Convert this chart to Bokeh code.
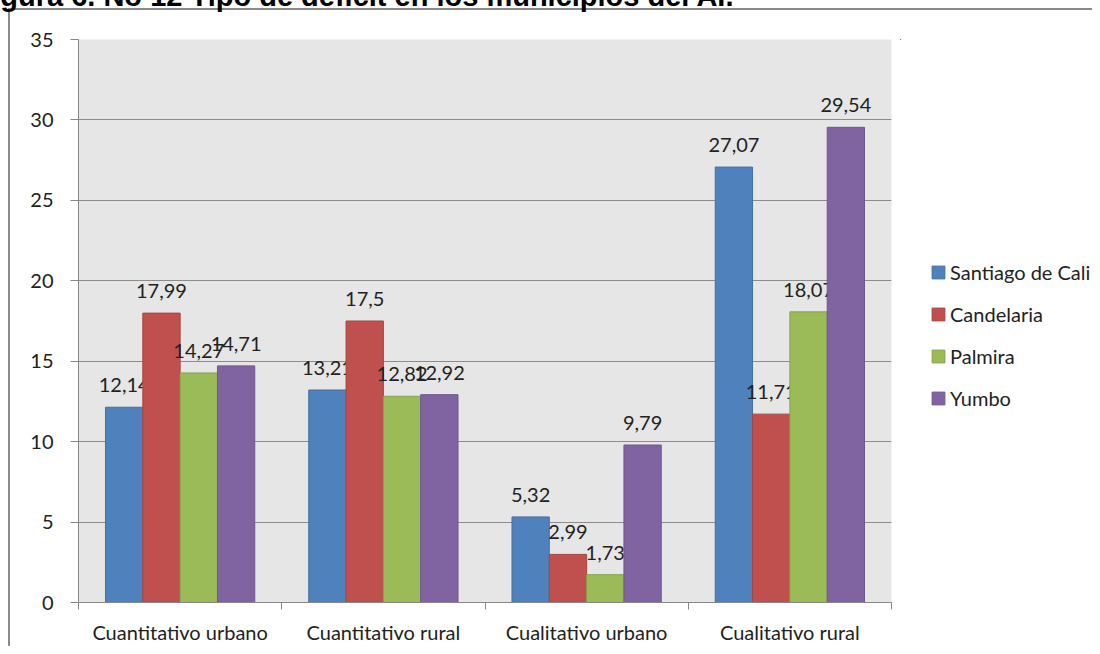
from bokeh.plotting import figure
from bokeh.layouts import row
from bokeh.models import (ColumnDataSource, FixedTicker, Legend, LegendItem,
                          Label)
from bokeh.core.properties import value
from bokeh.embed import file_html
from bokeh.resources import INLINE

categories = ["Cuantitativo urbano", "Cuantitativo rural",
              "Cualitativo urbano", "Cualitativo rural"]
series = ["Santiago de Cali", "Candelaria", "Palmira", "Yumbo"]
santiago_de_cali = [12.14, 13.21, 5.32, 27.07]
candelaria = [17.99, 17.5, 2.99, 11.71]
palmira = [14.27, 12.82, 1.73, 18.07]
yumbo = [14.71, 12.92, 9.79, 29.54]
y_ticks = [0, 5, 10, 15, 20, 25, 30, 35]
title_text = "Figura 6. No 12 Tipo de déficit en los municipios del AI."

colors = ["#4F81BD", "#C0504D", "#9BBB59", "#8064A2"]
edges = ["#44719f", "#a84340", "#86a44b", "#6e5790"]
FONT = "Lato"
TXT = "#222222"
FRAME = "#8a8a8a"
GRAD = "linear-gradient(%s,%s)" % (FRAME, FRAME)

H = 646
p = figure(width=900, height=H, x_range=(0, 4), y_range=(0, 35),
           output_backend="svg", toolbar_location=None,
           min_border_left=78, min_border_right=9,
           min_border_top=39, min_border_bottom=44)
p.background_fill_color = "#e6e6e6"
p.border_fill_color = None
p.outline_line_color = None
p.styles = {"background": "%s 8px 8px / 2px 100%% no-repeat, "
                          "%s 8px 8px / 100%% 2px no-repeat, white" % (GRAD, GRAD)}

bar_w = 0.1836
offsets = [-1.5 * bar_w, -0.5 * bar_w, 0.5 * bar_w, 1.5 * bar_w]
all_values = [santiago_de_cali, candelaria, palmira, yumbo]

sources = []
for vals, name, col, ec, off in zip(all_values, series, colors, edges, offsets):
    xs = [i + 0.5 + off for i in range(len(categories))]
    src = ColumnDataSource(dict(x=xs, top=vals,
                                label=[repr(v).replace(".", ",") for v in vals]))
    sources.append(src)
    p.vbar(x="x", top="top", bottom=0, width=bar_w, source=src,
           fill_color=col, line_color=ec, line_width=1)
    p.text(x="x", y="top", text="label", source=src, text_align="center",
           text_baseline="alphabetic", y_offset=-22,
           text_font=value(FONT), text_font_size="20px", text_color=TXT)

# x axis: labels at category centres, tick marks at category boundaries
p.xaxis.ticker = FixedTicker(ticks=[i + 0.5 for i in range(len(categories))],
                             minor_ticks=list(range(len(categories) + 1)))
p.xaxis.major_label_overrides = {i + 0.5: c for i, c in enumerate(categories)}
p.xaxis.major_tick_out = 0
p.xaxis.major_tick_in = 0
p.xaxis.minor_tick_out = 7
p.xaxis.minor_tick_in = 0
p.xaxis.minor_tick_line_color = "#868686"
p.xaxis.axis_line_color = "#868686"
p.xaxis.major_label_standoff = 10
p.xaxis.major_label_text_font = FONT
p.xaxis.major_label_text_font_size = "20px"
p.xaxis.major_label_text_color = TXT
p.xgrid.grid_line_color = None

# y axis
p.yaxis.ticker = FixedTicker(ticks=y_ticks)
p.yaxis.major_tick_out = 8
p.yaxis.major_tick_in = 0
p.yaxis.minor_tick_line_color = None
p.yaxis.major_tick_line_color = "#868686"
p.yaxis.axis_line_color = "#868686"
p.yaxis.major_label_standoff = 17
p.yaxis.major_label_text_font = FONT
p.yaxis.major_label_text_font_size = "20px"
p.yaxis.major_label_text_color = TXT
p.ygrid.ticker = FixedTicker(ticks=y_ticks)
p.ygrid.grid_line_color = "#8c8c8c"

# clipped caption of the original picture (side panel: not clipped to frame)
p.add_layout(Label(x=-26, y=-5, x_units="canvas", y_units="canvas",
                   text=title_text, text_font="Liberation Sans",
                   text_font_style="bold", text_font_size="29px",
                   text_color="black", text_baseline="alphabetic"), "above")

# legend panel (its bar renderers lie outside its view; only the legend shows)
lg = figure(width=192, height=H, x_range=(10, 11), y_range=(-2, -1),
            output_backend="svg", toolbar_location=None,
            min_border_left=0, min_border_right=0, min_border_top=0,
            min_border_bottom=0)
lg.axis.visible = False
lg.grid.visible = False
lg.outline_line_color = None
lg.background_fill_color = None
lg.border_fill_color = None
lg.styles = {"background": "%s 0 8px / 100%% 2px no-repeat, white" % GRAD}
items = []
for src, name, col, ec in zip(sources, series, colors, edges):
    r = lg.vbar(x="x", top="top", bottom=0, width=bar_w, source=src,
                fill_color=col, line_color=ec, line_width=1)
    items.append(LegendItem(label=name, renderers=[r]))
legend = Legend(items=items, location=(30, 192), orientation="vertical",
                glyph_width=16, glyph_height=16, label_standoff=4,
                spacing=18, padding=0, margin=0, label_height=20,
                border_line_color=None, background_fill_alpha=0,
                label_text_font=FONT, label_text_font_size="20px",
                label_text_color=TXT)
lg.add_layout(legend)

layout = row(p, lg)
open("out.html", "w").write(file_html(layout, INLINE))
